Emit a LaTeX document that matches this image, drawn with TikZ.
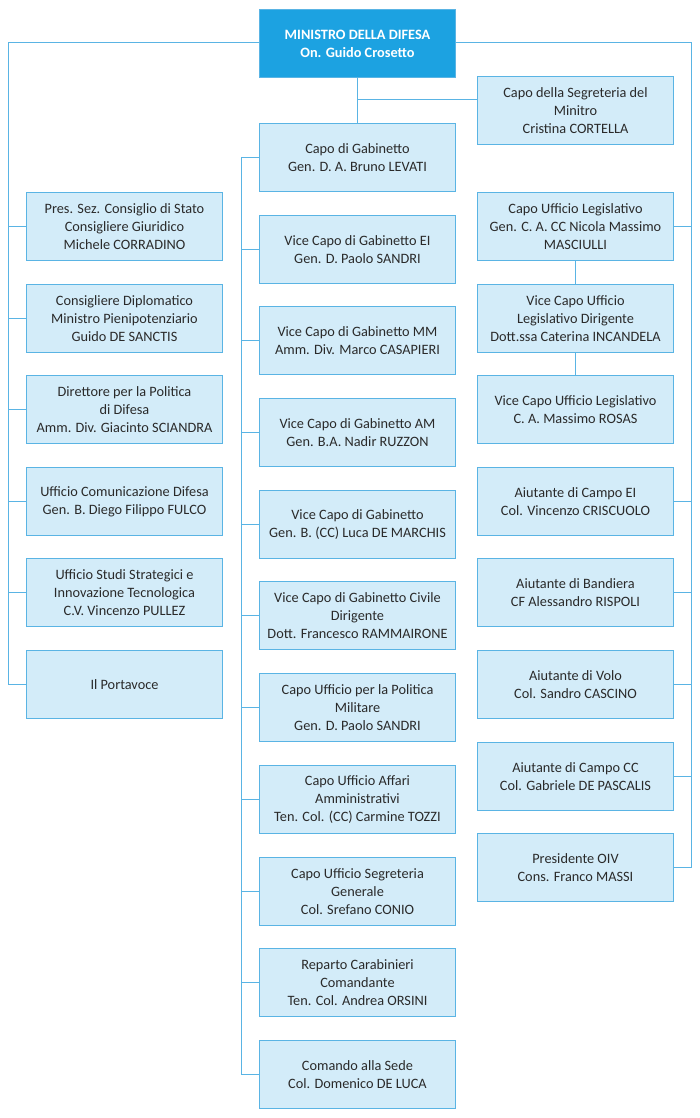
\documentclass[tikz,border=0pt]{standalone}
\usepackage{fontspec}
\setmainfont{Carlito}
\definecolor{ln}{HTML}{5AB4E4}
\definecolor{bxfill}{HTML}{D3ECF9}
\definecolor{topfill}{HTML}{1CA2E1}
\definecolor{txt}{HTML}{2A2A2A}
\tikzset{
  bx/.style={draw=ln, line width=1pt, fill=bxfill, anchor=north west,
    minimum width=196pt, minimum height=68pt, inner sep=1pt, align=center,
    text=txt, font=\fontsize{14.3}{18}\selectfont},
  topbx/.style={bx, fill=topfill, text=white, font=\fontsize{14.3}{18}\selectfont\bfseries},
  cn/.style={draw=ln, line width=1pt}
}
\begin{document}
\begin{tikzpicture}[x=1pt,y=-1pt]
\useasboundingbox (0,0) rectangle (700,1118);
% top
\node[topbx] (min) at (259,9) {MINISTRO DELLA DIFESA\\On. Guido Crosetto};
\node[bx] (seg) at (477,76) {Capo della Segreteria del\\Minitro\\Cristina CORTELLA};
% left column
\node[bx] (l1) at (26,192) {Pres. Sez. Consiglio di Stato\\Consigliere Giuridico\\Michele CORRADINO};
\node[bx] (l2) at (26,284) {Consigliere Diplomatico\\Ministro Pienipotenziario\\Guido DE SANCTIS};
\node[bx] (l3) at (26,375) {Direttore per la Politica\\di Difesa\\Amm. Div. Giacinto SCIANDRA};
\node[bx] (l4) at (26,467) {Ufficio Comunicazione Difesa\\Gen. B. Diego Filippo FULCO};
\node[bx] (l5) at (26,558) {Ufficio Studi Strategici e\\Innovazione Tecnologica\\C.V. Vincenzo PULLEZ};
\node[bx] (l6) at (26,650) {Il Portavoce};
% middle column
\node[bx] (m1) at (259,123) {Capo di Gabinetto\\Gen. D. A. Bruno LEVATI};
\node[bx] (m2) at (259,215) {Vice Capo di Gabinetto EI\\Gen. D. Paolo SANDRI};
\node[bx] (m3) at (259,306) {Vice Capo di Gabinetto MM\\Amm. Div. Marco CASAPIERI};
\node[bx] (m4) at (259,398) {Vice Capo di Gabinetto AM\\Gen. B.A. Nadir RUZZON};
\node[bx] (m5) at (259,490) {Vice Capo di Gabinetto\\Gen. B. (CC) Luca DE MARCHIS};
\node[bx] (m6) at (259,581) {Vice Capo di Gabinetto Civile\\Dirigente\\Dott. Francesco RAMMAIRONE};
\node[bx] (m7) at (259,673) {Capo Ufficio per la Politica\\Militare\\Gen. D. Paolo SANDRI};
\node[bx] (m8) at (259,765) {Capo Ufficio Affari\\Amministrativi\\Ten. Col. (CC) Carmine TOZZI};
\node[bx] (m9) at (259,857) {Capo Ufficio Segreteria\\Generale\\Col. Srefano CONIO};
\node[bx] (m10) at (259,948) {Reparto Carabinieri\\Comandante\\Ten. Col. Andrea ORSINI};
\node[bx] (m11) at (259,1040) {Comando alla Sede\\Col. Domenico DE LUCA};
% right column
\node[bx] (r1) at (477,192) {Capo Ufficio Legislativo\\Gen. C. A. CC Nicola Massimo\\MASCIULLI};
\node[bx] (r2) at (477,284) {Vice Capo Ufficio\\Legislativo Dirigente\\Dott.ssa Caterina INCANDELA};
\node[bx] (r3) at (477,375) {Vice Capo Ufficio Legislativo\\C. A. Massimo ROSAS};
\node[bx] (r4) at (477,467) {Aiutante di Campo EI\\Col. Vincenzo CRISCUOLO};
\node[bx] (r5) at (477,558) {Aiutante di Bandiera\\CF Alessandro RISPOLI};
\node[bx] (r6) at (477,650) {Aiutante di Volo\\Col. Sandro CASCINO};
\node[bx] (r7) at (477,742) {Aiutante di Campo CC\\Col. Gabriele DE PASCALIS};
\node[bx] (r8) at (477,833) {Presidente OIV\\Cons. Franco MASSI};
% coordinates
\coordinate (lv) at (8,43);
\coordinate (rv) at (691,43);
\coordinate (mv) at (241,0);
\coordinate (sj) at (477,100);
% connectors
\draw[cn] (min.west |- lv) -- (lv) |- (l6.west);
\foreach \n in {l1,l2,l3,l4,l5} \draw[cn] (lv |- \n.west) -- (\n.west);
\draw[cn] (min.east |- rv) -- (rv) |- (r8.east);
\foreach \n in {r1,r4,r5,r6,r7} \draw[cn] (rv |- \n.east) -- (\n.east);
\draw[cn] (min.south -| m1.north) -- (m1.north);
\draw[cn] (m1.north |- sj) -- (sj);
\draw[cn] (m1.west) -- (m1.west -| mv) |- (m11.west);
\foreach \n in {m2,m3,m4,m5,m6,m7,m8,m9,m10} \draw[cn] (mv |- \n.west) -- (\n.west);
\draw[cn] (r1.south) -- (r2.north);
\draw[cn] (r2.south) -- (r3.north);
\end{tikzpicture}
\end{document}
